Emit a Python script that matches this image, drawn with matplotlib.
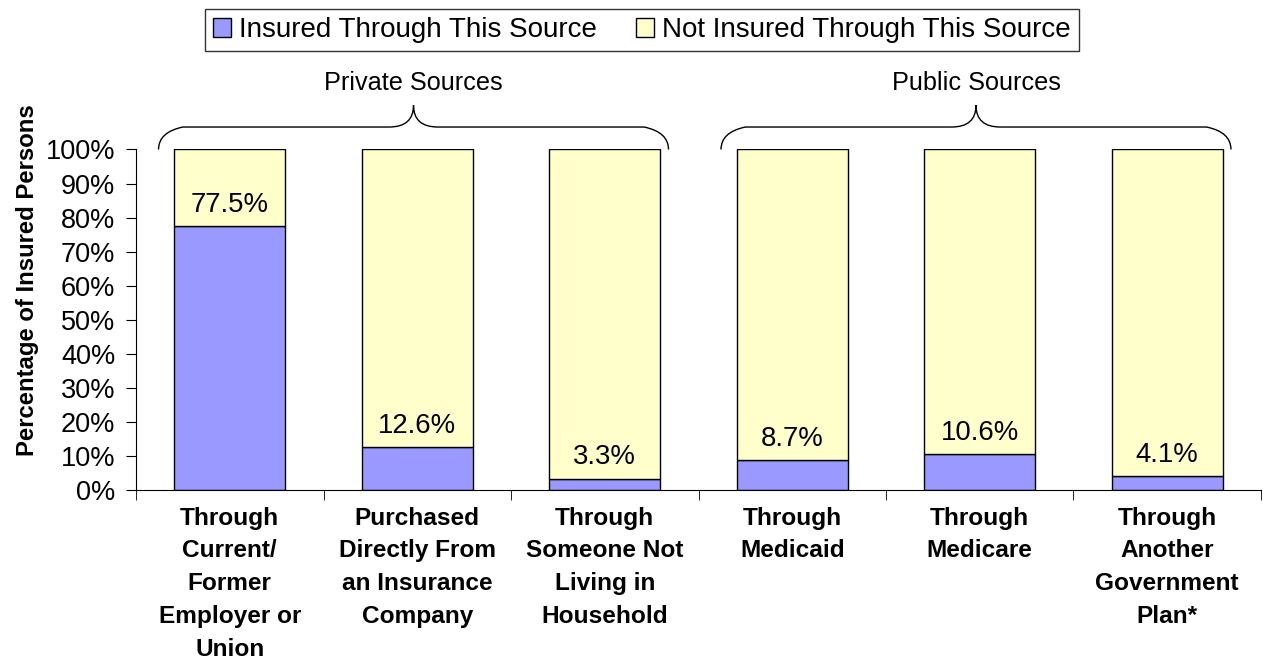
import numpy as np
import matplotlib.pyplot as plt
from matplotlib.path import Path
from matplotlib.patches import PathPatch

plt.rcParams['font.family'] = ['Liberation Sans', 'DejaVu Sans']

categories = ["Through\nCurrent/\nFormer\nEmployer or\nUnion",
              "Purchased\nDirectly From\nan Insurance\nCompany",
              "Through\nSomeone Not\nLiving in\nHousehold",
              "Through\nMedicaid",
              "Through\nMedicare",
              "Through\nAnother\nGovernment\nPlan*"]
insured = [77.5, 12.6, 3.3, 8.7, 10.6, 4.1]
not_insured = [100 - v for v in insured]
groups = ["Private Sources", "Public Sources"]
group_spans = [(0, 2), (3, 5)]

x = np.arange(len(categories))
fig = plt.figure(figsize=(12.63, 6.71), dpi=100)
ax = fig.add_axes([0.1077, 0.2697, 0.8907, 0.5075])

b1 = ax.bar(x, insured, width=0.59, color="#9999FF", edgecolor="black", lw=1,
            label="Insured Through This Source")
b2 = ax.bar(x, not_insured, bottom=insured, width=0.59, color="#FFFFCC",
            edgecolor="black", lw=1, label="Not Insured Through This Source")

for xi, v in zip(x, insured):
    ax.annotate(f"{v}%", (xi, v), xytext=(0, 6), textcoords="offset points",
                ha="center", va="bottom", fontsize=19.8)

ax.set_xlim(-0.5, len(categories) - 0.5)
ax.set_ylim(0, 100)
ax.set_yticks(np.arange(0, 101, 10))
ax.set_yticklabels([f"{t}%" for t in range(0, 101, 10)], fontsize=19.5)
ax.set_xticks(x)
ax.set_xticklabels(categories, fontsize=17.6, fontweight="bold", linespacing=1.54)
ax.tick_params(axis="x", length=0, pad=12)
ax.set_xticks(np.arange(-0.5, len(categories)), minor=True)
ax.tick_params(axis="x", which="minor", length=7, direction="out")
ax.tick_params(axis="y", length=7, direction="out", pad=8)
for s in ["top", "right"]:
    ax.spines[s].set_visible(False)

fig.text(28 / 1263, 1 - 280 / 671, "Percentage of Insured Persons", rotation=90,
         ha="center", va="center", fontsize=17.2, fontweight="bold")


def brace(x0, x1, y0=100, y1=106.6, y2=113, dx=0.13):
    xm = (x0 + x1) / 2
    verts = [(x0, y0), (x0, y1 - 1.5), (x0 + dx, y1),
             (xm - dx, y1), (xm, y1), (xm, y2),
             (xm, y1), (xm + dx, y1),
             (x1 - dx, y1), (x1, y1 - 1.5), (x1, y0)]
    codes = [Path.MOVETO, Path.CURVE3, Path.CURVE3,
             Path.LINETO, Path.CURVE3, Path.CURVE3,
             Path.CURVE3, Path.CURVE3,
             Path.LINETO, Path.CURVE3, Path.CURVE3]
    ax.add_patch(PathPatch(Path(verts, codes), fc="none", ec="black", lw=1,
                           clip_on=False))
    return xm


for name, (i0, i1) in zip(groups, group_spans):
    xm = brace(i0 - 0.38, i1 + 0.34)
    ax.text(xm, 116, name, ha="center", va="bottom", fontsize=18.2)

fig.legend(handles=[b1, b2], loc="center", bbox_to_anchor=(642 / 1263, 1 - 30 / 671),
           ncol=2, fontsize=20, frameon=True, fancybox=False, edgecolor="black",
           handlelength=0.65, handleheight=0.65, handletextpad=0.3, columnspacing=1.4,
           borderpad=0.3, borderaxespad=0)

fig.savefig("out.png", dpi=100)
